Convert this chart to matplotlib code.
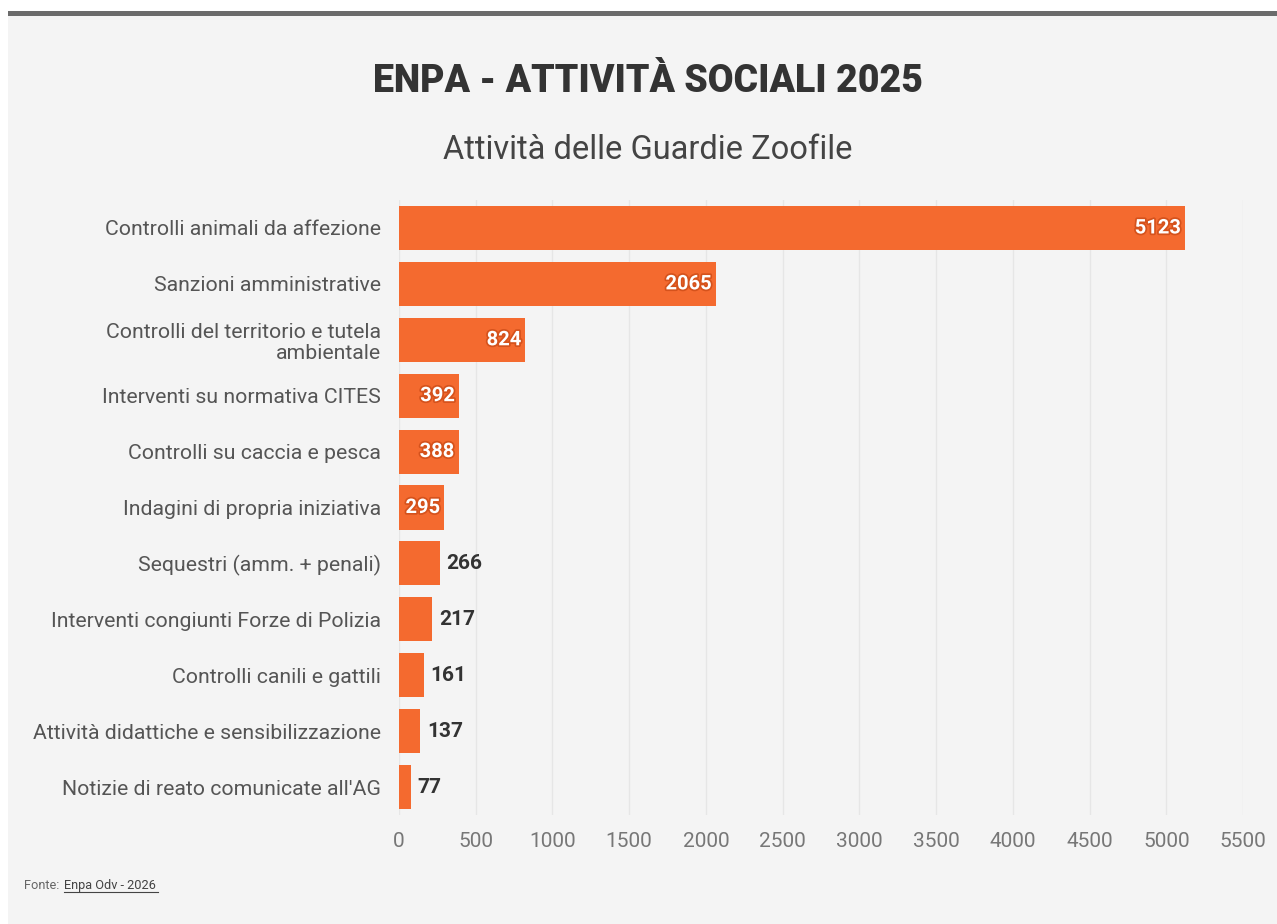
import matplotlib
matplotlib.use("Agg")
import matplotlib.pyplot as plt
import matplotlib.patheffects as pe
from matplotlib.patches import Rectangle

categories = [
    "Controlli animali da affezione",
    "Sanzioni amministrative",
    "Controlli del territorio e tutela\nambientale",
    "Interventi su normativa CITES",
    "Controlli su caccia e pesca",
    "Indagini di propria iniziativa",
    "Sequestri (amm. + penali)",
    "Interventi congiunti Forze di Polizia",
    "Controlli canili e gattili",
    "Attività didattiche e sensibilizzazione",
    "Notizie di reato comunicate all'AG",
]
values = [5123, 2065, 824, 392, 388, 295, 266, 217, 161, 137, 77]
xticks = list(range(0, 6000, 500))

BAR = "#f46a2f"
BG = "#f4f4f4"
plt.rcParams["font.family"] = ["Roboto", "DejaVu Sans"]

fig = plt.figure(figsize=(12.77, 9.24), dpi=100)
fig.patch.set_facecolor("white")
# gray panel and top dark bar
fig.patches.append(Rectangle((8 / 1277, 0), 1, 1 - 16 / 924, transform=fig.transFigure,
                             facecolor=BG, edgecolor="none", zorder=-2))
fig.patches.append(Rectangle((8 / 1277, 1 - 16 / 924), 1, 5 / 924, transform=fig.transFigure,
                             facecolor="#6b6b6b", edgecolor="none", zorder=-1))

ax = fig.add_axes([399 / 1277, 1 - 815 / 924, (1243 - 399) / 1277, (815 - 200) / 924])
ax.set_facecolor(BG)

y = list(range(len(categories)))
ax.barh(y, values, height=0.79, color=BAR, zorder=3)
ax.set_ylim(len(categories) - 0.5, -0.5)
ax.set_xlim(0, 5500)
ax.set_xticks(xticks)
ax.set_xticklabels([str(t) for t in xticks], fontsize=15, color="#777777")
ax.set_yticks(y)
ax.set_yticklabels(categories, fontsize=15.3, color="#555555", linespacing=1.15)
ax.tick_params(axis="both", length=0)
ax.tick_params(axis="y", pad=13)
ax.tick_params(axis="x", pad=12)
for s in ax.spines.values():
    s.set_visible(False)
ax.grid(axis="x", color="#e6e6e6", linewidth=1, zorder=0)

for yi, v in zip(y, values):
    if v >= 290:
        ax.text(v - 28, yi, str(v), ha="right", va="center", fontsize=14.5,
                fontweight="bold", color="white", zorder=4,
                path_effects=[pe.withStroke(linewidth=2.5, foreground="#d5521c")])
    else:
        ax.text(v + 45, yi, str(v), ha="left", va="center", fontsize=15,
                fontweight="bold", color="#333333", zorder=4)

fig.text(648 / 1277, 1 - 82 / 924, "ENPA - ATTIVITÀ SOCIALI 2025", ha="center",
         va="center", fontsize=27, fontweight="heavy", color="#333333")
fig.text(648 / 1277, 1 - 150 / 924, "Attività delle Guardie Zoofile", ha="center",
         va="center", fontsize=23.5, color="#444444")

# source line
fig.text(24 / 1277, 1 - 889 / 924, "Fonte:", ha="left", va="baseline", fontsize=9.2,
         color="#666666")
fig.text(64 / 1277, 1 - 889 / 924, "Enpa Odv - 2026", ha="left", va="baseline",
         fontsize=9.2, color="#444444")
fig.add_artist(plt.Line2D([64 / 1277, 158 / 1277], [1 - 892 / 924, 1 - 892 / 924],
                          transform=fig.transFigure, color="#444444", linewidth=0.8))

fig.savefig("out.png", dpi=100, facecolor=fig.get_facecolor())
